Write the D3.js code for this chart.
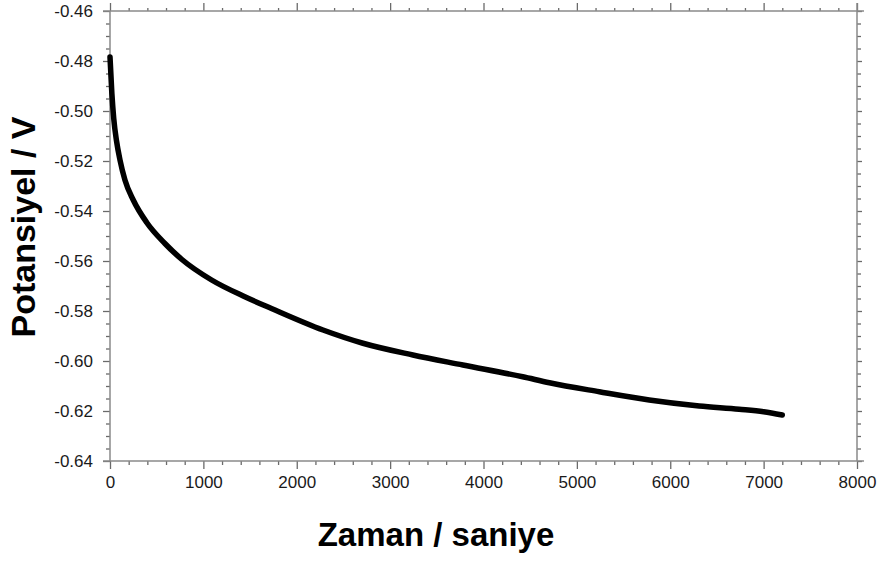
<!DOCTYPE html>
<html>
<head>
<meta charset="utf-8">
<script src="https://cdn.jsdelivr.net/npm/d3@7"></script>
<style>
  html, body { margin: 0; padding: 0; background: #fff; }
  svg { display: block; }
</style>
</head>
<body>
<svg id="chart" width="882" height="562"></svg>
<script>
// ---- data ----
const timeSec = [0, 20, 40, 70, 107, 160, 249, 393, 588, 767, 1088, 1444, 1729, 2281, 2709, 3244, 3779, 4420, 4706, 5241, 5775, 6310, 6738, 7000, 7200];
const potential = [-0.4784, -0.4930, -0.5030, -0.5120, -0.5196, -0.5276, -0.5356, -0.5446, -0.5530, -0.5593, -0.5676, -0.5743, -0.5790, -0.5876, -0.5929, -0.5976, -0.6016, -0.6063, -0.6087, -0.6123, -0.6156, -0.6180, -0.6193, -0.6203, -0.6216];
const xTickLabels = [0, 1000, 2000, 3000, 4000, 5000, 6000, 7000, 8000];
const yTickLabels = [-0.46, -0.48, -0.50, -0.52, -0.54, -0.56, -0.58, -0.60, -0.62, -0.64];
const xLabel = "Zaman / saniye";
const yLabel = "Potansiyel / V";

const svg = d3.select("#chart");
const mLeft = 110, mRight = 857, mTop = 11, mBottom = 461;
const x = d3.scaleLinear().domain([0, 8000]).range([mLeft, mRight]);
const y = d3.scaleLinear().domain([-0.64, -0.46]).range([mBottom, mTop]);

const xMinor = d3.range(0, 8001, 200).filter(v => v % 1000 !== 0);
const yMinor = d3.range(0, 37).map(i => +(-0.64 + i * 0.005).toFixed(3)).filter(v => Math.round(Math.abs(v) * 1000) % 20 !== 0);

const axisColor = "#8a8a8a";
const tickColor = "#6a6a6a";
const yFmt = v => v.toFixed(2);   // plain hyphen minus, as in the reference

function styleAxis(g) {
  g.select(".domain").remove();
  g.selectAll(".tick line").attr("stroke", tickColor).attr("stroke-width", 1.3);
  g.selectAll(".tick text").attr("fill", "#1a1a1a")
    .style("font-family", "'Liberation Sans', Arial, sans-serif").style("font-size", "17px");
}

// minor ticks
svg.append("g").attr("transform", `translate(0,${mBottom})`)
  .call(d3.axisBottom(x).tickValues(xMinor).tickSize(4).tickFormat("")).call(styleAxis);
svg.append("g").attr("transform", `translate(0,${mTop})`)
  .call(d3.axisTop(x).tickValues(xMinor).tickSize(3).tickFormat("")).call(styleAxis);
svg.append("g").attr("transform", `translate(${mLeft},0)`)
  .call(d3.axisLeft(y).tickValues(yMinor).tickSize(4).tickFormat("")).call(styleAxis);
svg.append("g").attr("transform", `translate(${mRight},0)`)
  .call(d3.axisRight(y).tickValues(yMinor).tickSize(4).tickFormat("")).call(styleAxis);

// major ticks
svg.append("g").attr("transform", `translate(0,${mBottom})`)
  .call(d3.axisBottom(x).tickValues(xTickLabels).tickSize(8).tickPadding(7).tickFormat(d => String(d)))
  .call(styleAxis);
svg.append("g").attr("transform", `translate(0,${mTop})`)
  .call(d3.axisTop(x).tickValues(xTickLabels).tickSize(8).tickFormat("")).call(styleAxis);
svg.append("g").attr("transform", `translate(${mLeft},0)`)
  .call(d3.axisLeft(y).tickValues(yTickLabels).tickSize(7).tickPadding(10).tickFormat(yFmt))
  .call(styleAxis);
svg.append("g").attr("transform", `translate(${mRight},0)`)
  .call(d3.axisRight(y).tickValues(yTickLabels).tickSize(5).tickFormat("")).call(styleAxis);

// frame lines
const frame = svg.append("g").attr("stroke", axisColor).attr("stroke-width", 1.5);
frame.append("line").attr("x1", mLeft - 7).attr("x2", mRight + 7).attr("y1", mBottom).attr("y2", mBottom);
frame.append("line").attr("x1", mLeft - 7).attr("x2", mRight + 7).attr("y1", mTop).attr("y2", mTop);
frame.append("line").attr("x1", mLeft).attr("x2", mLeft).attr("y1", mTop).attr("y2", mBottom);
frame.append("line").attr("x1", mRight).attr("x2", mRight).attr("y1", mTop - 8).attr("y2", mBottom);

// data line
const pts = timeSec.map((t, i) => [t, potential[i]]);
const line = d3.line().x(d => x(d[0])).y(d => y(d[1])).curve(d3.curveMonotoneX);
svg.append("path").datum(pts).attr("d", line)
  .attr("fill", "none").attr("stroke", "#000").attr("stroke-width", 5.5)
  .attr("stroke-linecap", "round").attr("stroke-linejoin", "round");

// axis titles
svg.append("text").attr("x", 436).attr("y", 546).attr("text-anchor", "middle")
  .style("font-family", "'Liberation Sans', Arial, sans-serif").style("font-weight", "bold")
  .style("font-size", "33px").attr("fill", "#000").text(xLabel);
svg.append("text").attr("transform", "translate(35,227) rotate(-90)").attr("text-anchor", "middle")
  .style("font-family", "'Liberation Sans', Arial, sans-serif").style("font-weight", "bold")
  .style("font-size", "34px").attr("fill", "#000").text(yLabel);
</script>
</body>
</html>
